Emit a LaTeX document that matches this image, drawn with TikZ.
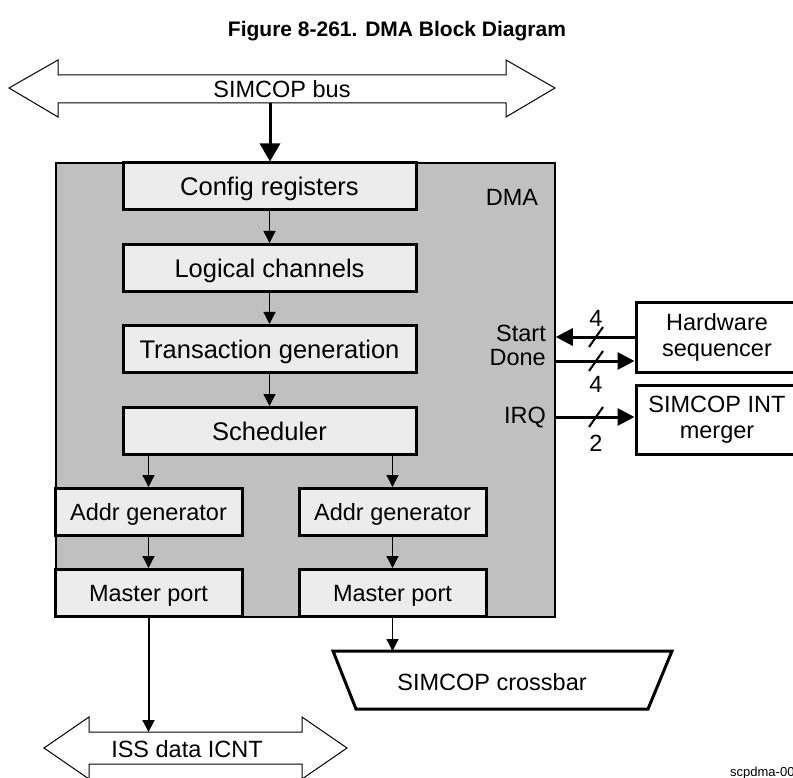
\documentclass[tikz,border=0pt]{standalone}
\usepackage{fontspec}
\setmainfont{Liberation Sans}
\usetikzlibrary{arrows.meta}
\definecolor{dmagray}{RGB}{192,192,192}
\definecolor{boxfill}{RGB}{236,236,236}
\begin{document}
\begin{tikzpicture}[x=1pt,y=-1pt,
  bigbox/.style={draw, line width=3pt, fill=boxfill, inner sep=0pt, minimum width=293pt, minimum height=47pt,
    font=\fontsize{25.5}{28}\selectfont, text height=18.3pt, text depth=0pt},
  smallbox/.style={draw, line width=3pt, fill=boxfill, inner sep=0pt, minimum width=187pt, minimum height=47pt,
    font=\fontsize{23.5}{26}\selectfont, text height=16.8pt, text depth=0pt},
  sidebox/.style={draw, line width=3pt, fill=white, inner sep=0pt, minimum width=162pt, minimum height=69pt,
    align=center, font=\fontsize{23.5}{26}\selectfont},
  lbl/.style={inner sep=0pt, font=\fontsize{23.5}{26}\selectfont, text height=16.8pt, text depth=0pt},
  thinarr/.style={line width=1.3pt, -{Triangle[length=12pt,width=12pt]}},
  bigarr/.style={line width=3pt, -{Triangle[length=17pt,width=17pt]}},
  busarr/.style={line width=3pt, -{Triangle[length=18pt,width=20pt]}},
  slash/.style={line width=2pt},
  outline/.style={draw, line width=1pt, fill=white, line join=miter}
]
\useasboundingbox (0,0) rectangle (793,778);
\clip (0,0) rectangle (793,778);
\fill[white] (0,0) rectangle (793,778);

% title
\node[inner sep=0pt, font=\bfseries\fontsize{21}{24}\selectfont] (title) at (397,31) {Figure 8-261. DMA Block Diagram};

% SIMCOP bus
\path[outline] (9,88) -- (58,60) -- (58,75) -- (506,75) -- (506,60) -- (555,88) -- (506,117)
  -- (506,103) -- (58,103) -- (58,117) -- cycle;
\node[lbl] (bus) at (282,89) {SIMCOP bus};
\coordinate (busdrop) at (270,103);

% DMA block
\node[draw, line width=1.5pt, fill=dmagray, inner sep=0pt, minimum width=499pt, minimum height=454pt] (dma) at (305.5,390) {};
\node[lbl] (dmalbl) at (512,197) {DMA};

\node[bigbox] (cfg) at (269.5,186.5) {Config registers};
\node[bigbox] (log) at (269.5,268) {Logical channels};
\node[bigbox] (trn) at (269.5,349) {Transaction generation};
\node[bigbox] (sch) at (269.5,431) {Scheduler};

\node[smallbox] (ag1) at (148.5,512) {Addr generator};
\node[smallbox] (ag2) at (392.5,512) {Addr generator};
\node[smallbox] (mp1) at (148.5,593) {Master port};
\node[smallbox] (mp2) at (392.5,593) {Master port};

\draw[busarr] (busdrop) -- (busdrop |- cfg.north);
\draw[thinarr] (cfg.south) -- (log.north);
\draw[thinarr] (log.south) -- (trn.north);
\draw[thinarr] (trn.south) -- (sch.north);
\draw[thinarr] (ag1.north |- sch.south) -- (ag1.north);
\draw[thinarr] (ag2.north |- sch.south) -- (ag2.north);
\draw[thinarr] (ag1.south) -- (mp1.north);
\draw[thinarr] (ag2.south) -- (mp2.north);

% side blocks
\node[sidebox] (hw) at (717,337.5) {Hardware\\sequencer};
\node[sidebox] (intm) at (717,419.5) {SIMCOP INT\\merger};

\coordinate (sy) at (0,337);
\coordinate (dy) at (0,361);
\coordinate (iy) at (0,417);
\draw[bigarr] (hw.west |- sy) -- (dma.east |- sy);
\draw[bigarr] (dma.east |- dy) -- (hw.west |- dy);
\draw[bigarr] (dma.east |- iy) -- (intm.west |- iy);
\draw[slash] (589,347) -- (603,327);
\draw[slash] (589,371) -- (603,351);
\draw[slash] (589,427) -- (603,407);
\node[lbl] (n1) at (596,318) {4};
\node[lbl] (n2) at (596,384) {4};
\node[lbl] (n3) at (596,443) {2};
\node[lbl, anchor=east] (startl) at (546,333) {Start};
\node[lbl, anchor=east] (donel) at (546,357) {Done};
\node[lbl, anchor=east] (irql) at (546,415) {IRQ};

% crossbar
\path[draw, line width=3pt, fill=white, line join=miter] (333,651) -- (672,651) -- (648,709) -- (356,709) -- cycle;
\node[lbl] (xbar) at (492,682) {SIMCOP crossbar};
\coordinate (xbtop) at (392.5,651);
\draw[thinarr] (mp2.south) -- (xbtop);

% ISS data ICNT
\path[outline] (44,748) -- (89,717) -- (89,732) -- (302,732) -- (302,717) -- (347,748) -- (302,779)
  -- (302,764) -- (89,764) -- (89,779) -- cycle;
\node[lbl] (iss) at (187,749) {ISS data ICNT};
\coordinate (isstop) at (148.5,732);
\draw[line width=2pt, -{Triangle[length=12pt,width=12pt]}] (mp1.south) -- (isstop);

\node[inner sep=0pt, anchor=west, font=\fontsize{13}{15}\selectfont] (ref) at (730,773) {scpdma-001};
\end{tikzpicture}
\end{document}
